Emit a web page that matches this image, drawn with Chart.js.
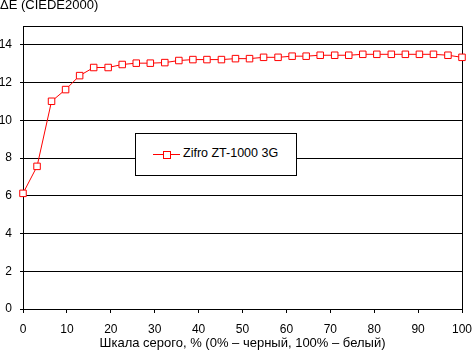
<!DOCTYPE html>
<html>
<head>
<meta charset="utf-8">
<script src="https://cdn.jsdelivr.net/npm/chart.js@4/dist/chart.umd.min.js"></script>
<style>
  body { margin: 0; background: #fff; }
  #wrap { position: relative; width: 472px; height: 352px; }
  #legend {
    position: absolute; left: 135px; top: 133px; width: 162px; height: 43px;
    box-sizing: border-box; border: 1px solid #000; background: #fff;
    font: 12.5px "Liberation Sans", Arial, sans-serif; color: #000;
  }
  #legend .ln { position: absolute; left: 17px; top: 20px; width: 27px; height: 1px; background: #f00; }
  #legend .sq { position: absolute; left: 27px; top: 17px; width: 8px; height: 8px; box-sizing: border-box; border: 1px solid #f00; background: #fff; }
  #legend .tx { position: absolute; left: 47px; top: 12px; line-height: 14px; white-space: nowrap; }
</style>
</head>
<body>
<div id="wrap">
  <canvas id="chart" width="472" height="352"></canvas>
  <div id="legend"></div>
</div>
<script>
const seriesName = 'Zifro ZT-1000 3G';
const grayLevels = [0, 3.2, 6.5, 9.7, 12.9, 16.1, 19.4, 22.6, 25.8, 29, 32.3, 35.5, 38.7, 41.9, 45.2, 48.4,
  51.6, 54.8, 58.1, 61.3, 64.5, 67.7, 71, 74.2, 77.4, 80.6, 83.9, 87.1, 90.3, 93.5, 96.8, 100];
const deltaE = [6.13, 7.56, 11.01, 11.63, 12.37, 12.8, 12.8, 12.96, 13.03, 13.03, 13.06, 13.17, 13.22, 13.22, 13.22, 13.27,
  13.27, 13.34, 13.34, 13.4, 13.4, 13.45, 13.45, 13.45, 13.5, 13.5, 13.5, 13.5, 13.5, 13.5, 13.45, 13.34];
const xTicks = [0, 10, 20, 30, 40, 50, 60, 70, 80, 90, 100];
const yTicks = [0, 2, 4, 6, 8, 10, 12, 14];
const yTitle = 'ΔE (CIEDE2000)';
const xTitle = 'Шкала серого, % (0% – черный, 100% – белый)';

Chart.defaults.font.family = '"Liberation Sans", Arial, sans-serif';
Chart.defaults.font.size = 12;
Chart.defaults.color = '#000';

// top and right edges of the plot box
const frame = {
  id: 'frame',
  beforeDatasetsDraw(chart) {
    const { ctx, chartArea: a } = chart;
    ctx.save();
    ctx.strokeStyle = '#000';
    ctx.lineWidth = 1;
    ctx.beginPath();
    ctx.moveTo(a.left, a.top + 0.5);
    ctx.lineTo(a.right + 0.5, a.top + 0.5);
    ctx.lineTo(a.right + 0.5, a.bottom);
    ctx.stroke();
    ctx.restore();
  },
};

const chart = new Chart(document.getElementById('chart'), {
  type: 'line',
  data: {
    datasets: [{
      label: seriesName,
      data: grayLevels.map((x, i) => ({ x, y: deltaE[i] })),
      borderColor: '#ff0000',
      borderWidth: 1,
      tension: 0,
      pointStyle: 'rect',
      pointRadius: 4.6,
      pointBorderWidth: 1,
      pointBorderColor: '#ff0000',
      pointBackgroundColor: '#fff',
      clip: false,
    }],
  },
  options: {
    responsive: false,
    animation: false,
    layout: { padding: { left: 0, right: 10, top: 0, bottom: 0 } },
    plugins: {
      legend: { display: false },
      tooltip: { enabled: false },
      title: {
        display: true,
        text: yTitle,
        align: 'start',
        font: { size: 13, weight: 'normal', lineHeight: 1 },
        padding: { top: -1, bottom: 14 },
      },
    },
    scales: {
      x: {
        type: 'linear',
        min: 0,
        max: 100,
        afterBuildTicks: (s) => { s.ticks = xTicks.map((v) => ({ value: v })); },
        afterFit: (s) => { s.height = 43; s.paddingLeft = 0; s.paddingRight = 0; },
        ticks: { padding: 9, maxRotation: 0, autoSkip: false },
        grid: { drawOnChartArea: false, drawTicks: true, tickLength: 4, color: '#000' },
        border: { color: '#000', width: 1 },
        title: { display: true, text: xTitle, font: { size: 13, lineHeight: 1 }, padding: { top: 0, bottom: 2.5 } },
      },
      y: {
        min: 0,
        max: 15,
        afterBuildTicks: (s) => { s.ticks = yTicks.map((v) => ({ value: v })); },
        afterFit: (s) => { s.width = 23; s.paddingTop = 0; s.paddingBottom = 0; },
        ticks: { padding: 8, autoSkip: false },
        grid: { color: '#000', lineWidth: 1, drawTicks: true, tickLength: 3 },
        border: { color: '#000', width: 1 },
      },
    },
  },
  plugins: [frame],
});

const ds = chart.data.datasets[0];
document.getElementById('legend').innerHTML =
  `<div class="ln"></div><div class="sq"></div><div class="tx">${ds.label}</div>`;
</script>
</body>
</html>
